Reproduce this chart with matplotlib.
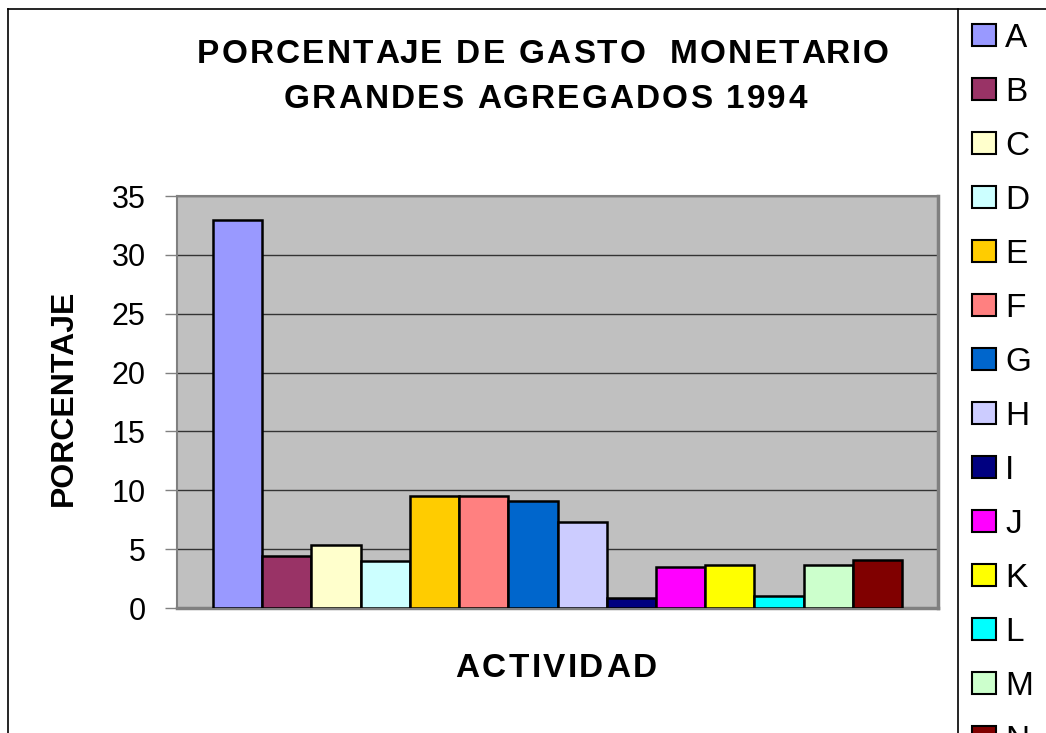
import matplotlib
matplotlib.use("Agg")
import matplotlib.pyplot as plt
from matplotlib.lines import Line2D
from matplotlib.patches import Patch
import numpy

plt.rcParams['font.family'] = ['Liberation Sans', 'DejaVu Sans']

categories = ["A", "B", "C", "D", "E", "F", "G", "H", "I", "J", "K", "L", "M", "N"]
values = [33.0, 4.45, 5.35, 4.0, 9.5, 9.5, 9.05, 7.3, 0.85, 3.45, 3.65, 1.05, 3.65, 4.1]
colors = ["#9999FF", "#993366", "#FFFFCC", "#CCFFFF", "#FFCC00", "#FF8080", "#0066CC",
          "#CCCCFF", "#000080", "#FF00FF", "#FFFF00", "#00FFFF", "#CCFFCC", "#800000"]
yticks = [0, 5, 10, 15, 20, 25, 30, 35]

W, H = 1046, 733
fig = plt.figure(figsize=(W / 100, H / 100), dpi=100)
renderer = fig.canvas.get_renderer()


def spaced_text(xc, y_base, s, size, spacing):
    # bold text with extra letter spacing (px), centred on xc, baseline at y_base (px from top)
    def width(txt):
        t = fig.text(0, 0, txt, fontsize=size, fontweight="bold")
        w = t.get_window_extent(renderer).width
        t.remove()
        return w
    wx = width("X")
    starts = [width(s[:i] + "X") - wx + i * spacing if i else 0.0 for i in range(len(s))]
    total = width(s) + (len(s) - 1) * spacing
    x0 = xc - total / 2
    for ch, off in zip(s, starts):
        fig.text((x0 + off) / W, 1 - y_base / H, ch, fontsize=size, fontweight="bold",
                 ha="left", va="baseline")


ax = fig.add_axes([177 / W, 1 - 608 / H, (938 - 177) / W, (608 - 196) / H])
ax.set_facecolor("#C0C0C0")

x = numpy.arange(len(categories))
ax.bar(x, values, width=1.0, color=colors, edgecolor="black", linewidth=1.8, zorder=3)

ax.set_ylim(0, 35)
ax.set_xlim(-0.5 - 0.73, len(categories) - 0.5 + 0.73)
ax.set_yticks(yticks)
ax.set_yticklabels([str(t) for t in yticks], fontsize=22)
ax.set_xticks([])
ax.tick_params(axis="y", length=8.6, width=1, color="#808080", pad=14)
ax.yaxis.grid(True, color="#333333", linewidth=1, zorder=1)
ax.set_axisbelow(True)
for side in ["top", "left"]:
    ax.spines[side].set_color("#808080")
    ax.spines[side].set_linewidth(1.5)
for side in ["right", "bottom"]:
    ax.spines[side].set_color("#808080")
    ax.spines[side].set_linewidth(2.5)

spaced_text(543, 63, "PORCENTAJE DE GASTO  MONETARIO", 24, 2.2)
spaced_text(545, 108, "GRANDES AGREGADOS 1994", 24, 2.2)
spaced_text(556, 677, "ACTIVIDAD", 24, 2.4)
fig.text(64 / W, 1 - 398 / H, "PORCENTAJE", fontsize=23, fontweight="bold",
         rotation=90, ha="center", va="center")

# outer chart frame and legend divider
fig.add_artist(Line2D([8 / W, 8 / W], [0, 1 - 9 / H], color="black", linewidth=1.2))
fig.add_artist(Line2D([8 / W, 1], [1 - 9 / H, 1 - 9 / H], color="black", linewidth=1.2))
fig.add_artist(Line2D([958 / W, 958 / W], [0, 1 - 9 / H], color="black", linewidth=1.2))

handles = [Patch(facecolor=c, edgecolor="black", linewidth=1.5) for c in colors]
fig.legend(handles, categories, loc="upper left", bbox_to_anchor=(972 / W, 1 - 23 / H),
           frameon=False, fontsize=24, handlelength=0.72, handleheight=0.63,
           handletextpad=0.27, labelspacing=0.69, borderaxespad=0, borderpad=0)

fig.savefig("out.png", dpi=100)
